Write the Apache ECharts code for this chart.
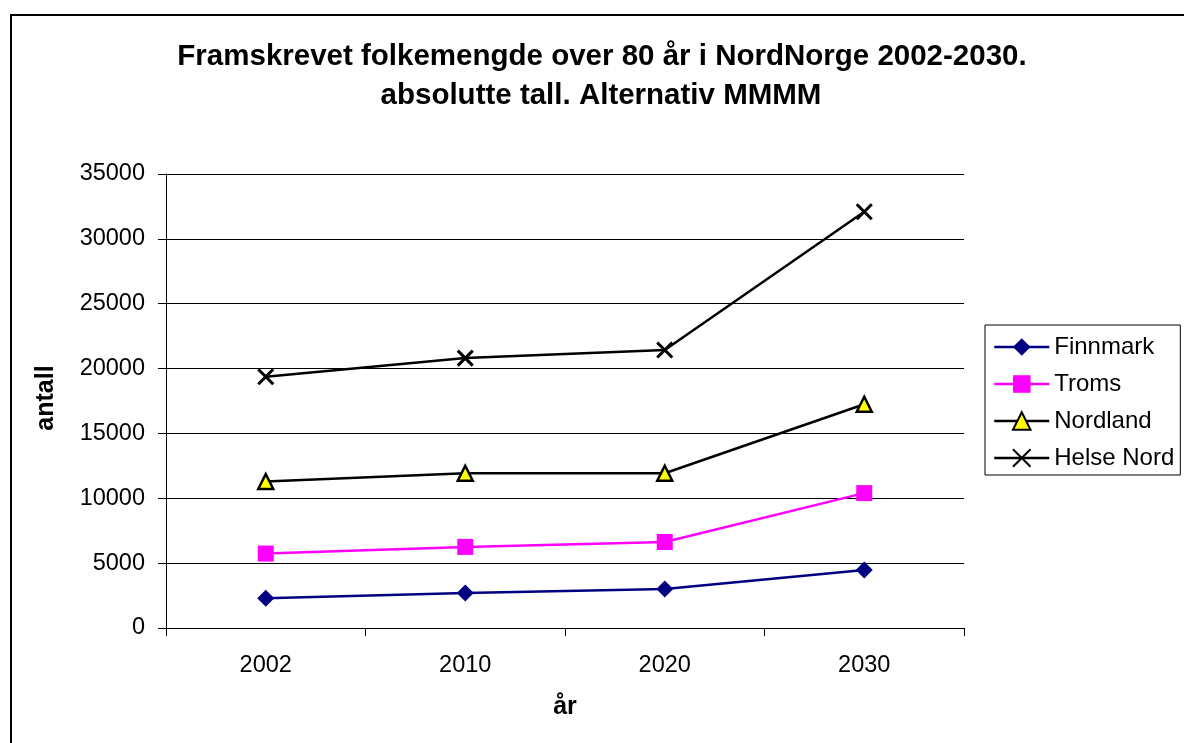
<!DOCTYPE html>
<html><head><meta charset="utf-8">
<script src="https://cdn.jsdelivr.net/npm/echarts@6/dist/echarts.min.js"></script>
<style>html,body{margin:0;padding:0;background:#fff}#c{width:1184px;height:743px}</style>
</head><body><div id="c"></div>
<script>
const categories = ['2002', '2010', '2020', '2030'];
const finnmark = [2290, 2700, 3000, 4470];
const troms = [5740, 6250, 6630, 10400];
const nordland = [11290, 11930, 11930, 17250];
const helseNord = [19370, 20810, 21430, 32090];
const seriesNames = ['Finnmark', 'Troms', 'Nordland', 'Helse Nord'];
const titleLines = ['Framskrevet folkemengde over 80 år i NordNorge 2002-2030.', 'absolutte tall. Alternativ MMMM'];
const yAxisName = 'antall';
const xAxisName = 'år';

const FF = '"Liberation Sans", Arial, sans-serif';
const chart = echarts.init(document.getElementById('c'), null, {renderer: 'canvas'});
const crossPath = 'path://M0,0L10,10M10,0L0,10';

chart.setOption({
  animation: false,
  backgroundColor: '#fff',
  grid: {left: 166, right: 220, top: 174, bottom: 115},
  legend: {
    orient: 'vertical', left: 985, top: 325,
    padding: [10, 6, 5, 8], itemGap: 13, itemWidth: 55, itemHeight: 22,
    borderColor: '#000', borderWidth: 1, backgroundColor: '#fff',
    lineStyle: {width: 2.5},
    textStyle: {fontSize: 24, fontFamily: FF, color: '#000', lineHeight: 24},
    data: seriesNames
  },
  xAxis: {
    type: 'category', data: categories, boundaryGap: true,
    axisLine: {lineStyle: {color: '#000', width: 1}},
    axisTick: {show: true, length: 8, lineStyle: {color: '#000', width: 1}},
    axisLabel: {fontSize: 23.5, fontFamily: FF, color: '#000', margin: 26},
    splitLine: {show: false}
  },
  yAxis: {
    type: 'value', min: 0, max: 35000, interval: 5000,
    axisLine: {show: true, lineStyle: {color: '#000', width: 1}},
    axisTick: {show: true, length: 8, lineStyle: {color: '#000', width: 1}},
    axisLabel: {fontSize: 23.5, fontFamily: FF, color: '#000', margin: 21, formatter: v => String(v)},
    splitLine: {show: true, lineStyle: {color: '#000', width: 1}}
  },
  series: [
    {name: seriesNames[0], type: 'line', data: finnmark, symbol: 'diamond', symbolSize: 17,
     lineStyle: {color: '#000080', width: 2.5}, itemStyle: {color: '#000080', borderColor: '#000080', borderWidth: 0}},
    {name: seriesNames[1], type: 'line', data: troms, symbol: 'rect', symbolSize: 16,
     lineStyle: {color: '#ff00ff', width: 2.5}, itemStyle: {color: '#ff00ff', borderColor: '#ff00ff', borderWidth: 0}},
    {name: seriesNames[2], type: 'line', data: nordland, symbol: 'triangle', symbolSize: 15,
     lineStyle: {color: '#000', width: 2.5}, itemStyle: {color: '#ffff00', borderColor: '#000', borderWidth: 2.5}},
    {name: seriesNames[3], type: 'line', data: helseNord, symbol: crossPath, symbolSize: 15,
     lineStyle: {color: '#000', width: 2.5}, itemStyle: {color: '#000', borderColor: '#000', borderWidth: 3}}
  ],
  graphic: [
    {type: 'rect', silent: true, shape: {x: 11, y: 15, width: 1300, height: 900},
     style: {fill: 'none', stroke: '#000', lineWidth: 2}, z: -10},
    {type: 'text', x: 602, y: 57,
     style: {text: titleLines[0], fontSize: 29.5, fontWeight: 'bold', fontFamily: FF, fill: '#000', align: 'center', verticalAlign: 'middle'}},
    {type: 'text', x: 601, y: 96,
     style: {text: titleLines[1], fontSize: 29.5, fontWeight: 'bold', fontFamily: FF, fill: '#000', align: 'center', verticalAlign: 'middle'}},
    {type: 'text', x: 46, y: 398, rotation: Math.PI / 2,
     style: {text: yAxisName, fontSize: 25, fontWeight: 'bold', fontFamily: FF, fill: '#000', align: 'center', verticalAlign: 'middle'}},
    {type: 'text', x: 565, y: 707,
     style: {text: xAxisName, fontSize: 25, fontWeight: 'bold', fontFamily: FF, fill: '#000', align: 'center', verticalAlign: 'middle'}}
  ]
});
</script></body></html>
